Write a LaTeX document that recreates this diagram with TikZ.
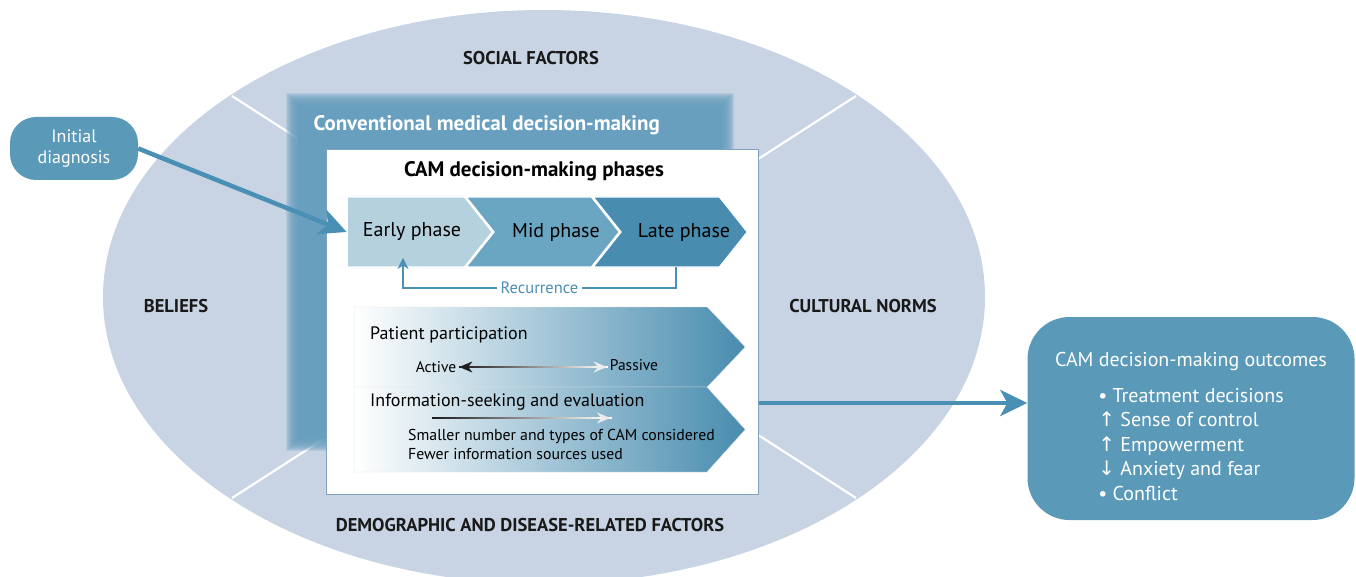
\documentclass[tikz,border=0pt]{standalone}
\usepackage{fontspec}
\setmainfont{PT Sans}
\newfontfamily\symfont{DejaVu Sans}
\usetikzlibrary{shapes.symbols,arrows.meta,calc}

\definecolor{ovalbg}{HTML}{C8D3E3}
\definecolor{convblue}{HTML}{689FBF}
\definecolor{phaseA}{HTML}{B5D1DD}
\definecolor{phaseB}{HTML}{6AA6C2}
\definecolor{phaseC}{HTML}{488CAF}
\definecolor{boxblue}{HTML}{5A99B8}
\definecolor{arrowblue}{HTML}{4A8FB4}
\definecolor{frameblue}{HTML}{7EA3BE}

% shaft that fades from dark to white between two points
\newcommand{\fadeline}[2]{%
  \foreach \k in {0,...,29}{%
    \pgfmathtruncatemacro{\tone}{88-\k*3}%
    \draw[line width=2.4pt, black!\tone] ($(#1)!\k/30!(#2)$) -- ($(#1)!\k/30+1.3/30!(#2)$);
  }}

\begin{document}
\begin{tikzpicture}[x=1pt,y=-1pt,
  factor/.style={font=\fontsize{18.5}{20}\selectfont\bfseries, text=black!90},
  phase/.style={signal, signal to=east, signal pointer angle=103, minimum height=70pt, anchor=east,
    inner sep=0pt, draw=white, line width=1.2pt},
  phasetext/.style={font=\fontsize{20}{22}\selectfont},
  band/.style={signal, signal to=east, minimum width=391pt, draw=black!10, anchor=west,
    left color=white, right color=phaseC},
  bandtext/.style={anchor=west, inner sep=0pt, font=\fontsize{18}{21}\selectfont},
  small/.style={inner sep=3pt, font=\fontsize{15.5}{17}\selectfont},
  pill/.style={fill=boxblue, text=white, align=center, rounded corners=26pt,
    minimum width=128pt, minimum height=63pt, font=\fontsize{18}{21}\selectfont},
  outbox/.style={fill=boxblue, rounded corners=42pt, minimum width=327pt, minimum height=203pt},
  outtext/.style={text=white, align=center, font=\fontsize{20}{24.6}\selectfont},
  bigarrow/.style={arrowblue, line width=4.5pt, -{Stealth[length=27pt,width=26pt,inset=7pt]}},
  recur/.style={arrowblue, line width=1.8pt, -{Stealth[length=11pt,width=11pt]}}
]
\useasboundingbox (0,0) rectangle (1356,577);

% background oval with the four factors
\fill[ovalbg] (544,297) ellipse [x radius=441, y radius=287];
\foreach \px/\py in {232/96, 856/96, 232/498, 856/498}
  \draw[white, line width=2.2pt] (\px,\py) -- (544,297);

\node[factor] (social) at (531,58) {SOCIAL FACTORS};
\node[factor] (beliefs) at (176,306) {BELIEFS};
\node[factor] (norms) at (863,306) {CULTURAL NORMS};
\node[factor] (demog) at (530,525) {DEMOGRAPHIC AND DISEASE-RELATED FACTORS};

% blurred conventional medical block
\foreach \i in {0,...,11}
  \fill[convblue, opacity=0.2] (286+\i,93+\i) rectangle (734-\i,451-\i);
\fill[convblue] (298,105) rectangle (722,439);
\node[anchor=west, text=white, font=\fontsize{21}{24}\selectfont\bfseries] (conv) at (310,125)
  {Conventional medical decision-making};

% CAM phases
\node[draw=frameblue, fill=white, line width=1pt, minimum width=432pt, minimum height=344pt] (frame) at (542,322) {};
\node[font=\fontsize{21}{24}\selectfont\bfseries] (phases) at (534,171) {CAM decision-making phases};

\node[phase, fill=phaseA, minimum width=145pt] (early) at (493,232) {};
\node[phase, signal from=west, fill=phaseB, minimum width=153pt] (mid) at (620,232) {};
\node[phase, signal from=west, fill=phaseC, minimum width=154pt] (late) at (748,232) {};
\node[phasetext] (earlylab) at (412,232) {Early phase};
\node[phasetext] (midlab) at (556,232) {Mid phase};
\node[phasetext] (latelab) at (684,232) {Late phase};

\draw[recur] ([shift={(-72,35)}]late.east) -- ++(0,21)
  -| node[pos=0.25, fill=white, text=arrowblue, inner sep=4pt, font=\fontsize{16.5}{18}\selectfont] (recurrence) {Recurrence}
  ([shift={(-90,26)}]early.east);

% participation and information seeking
\node[band, minimum height=80pt, signal pointer angle=93] (particip) at (354,347) {};
\node[band, minimum height=85pt, signal pointer angle=96] (seeking) at (354,429.5) {};

\node[bandtext] (partlab) at (370,335) {Patient participation};
\node[small] (active) at (436,367) {Active};
\node[small] (passive) at (634,365) {Passive};
\coordinate (pasL) at (active.east -| passive.west);
\fadeline{active.east}{pasL}
\draw[black!88, -{Stealth[length=13pt,width=11pt]}] ($(active.east)!0.04!(pasL)$) -- (active.east);
\draw[black!8, -{Stealth[length=13pt,width=11pt]}] ($(active.east)!0.96!(pasL)$) -- (pasL);

\node[bandtext] (seeklab) at (370,402) {Information-seeking and evaluation};
\coordinate (seekL) at (432,418);
\coordinate (seekR) at (610,418);
\fadeline{seekL}{seekR}
\draw[black!8, -{Stealth[length=13pt,width=11pt]}] ($(seekL)!0.96!(seekR)$) -- (seekR);
\node[anchor=north west, inner sep=0pt, align=left, font=\fontsize{15.8}{19}\selectfont] (fewer) at (408,429)
  {Smaller number and types of CAM considered\\Fewer information sources used};

% entry and outcomes
\node[pill] (diag) at (74,148.5) {Initial\\diagnosis};
\draw[bigarrow] (diag.east) -- (early.west);

\node[outbox] (outcome) at (1191,418.5) {};
\node[outtext] (outlist) at (1191,430) {CAM decision-making outcomes\\[11pt]
  \begin{tabular}[t]{@{}l@{}}
  • Treatment decisions\\
  {\symfont ↑} Sense of control\\
  {\symfont ↑} Empowerment\\
  {\symfont ↓} Anxiety and fear\\
  • Conflict
  \end{tabular}};
\coordinate (outY) at (0,403);
\draw[bigarrow] (frame.east |- outY) -- (outcome.west |- outY);
\end{tikzpicture}
\end{document}
